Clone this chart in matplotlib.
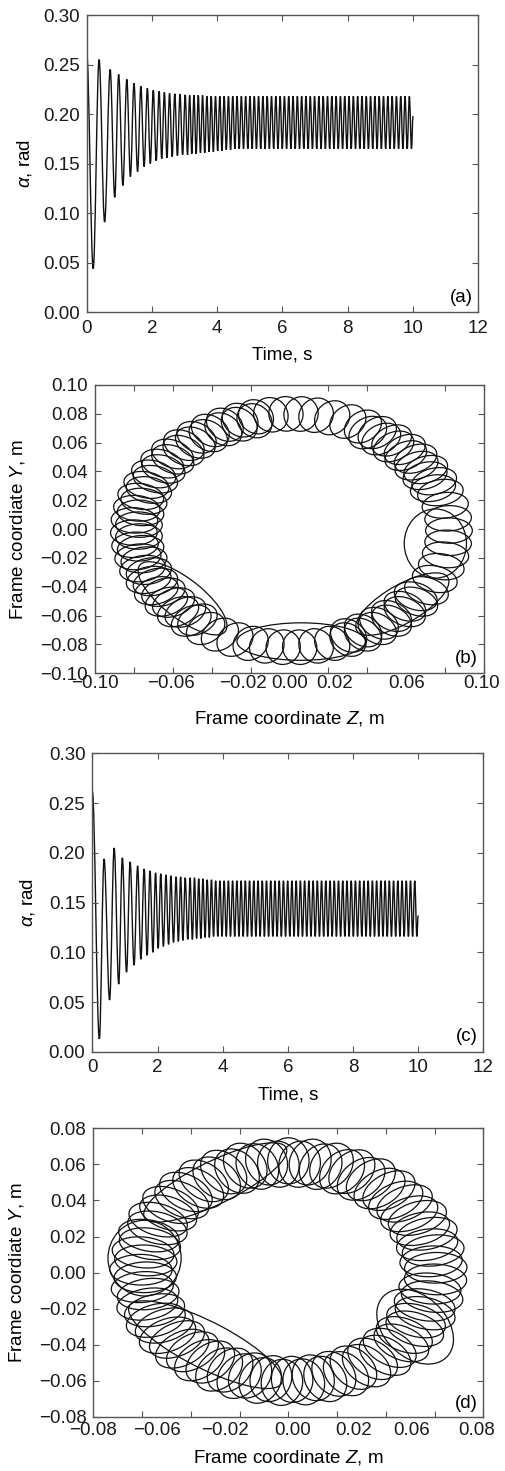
import numpy as np
import matplotlib
matplotlib.use('Agg')
import matplotlib.pyplot as plt
from matplotlib.patches import Ellipse, PathPatch
from matplotlib.path import Path

plt.rcParams['font.family'] = ['Liberation Sans', 'DejaVu Sans']
plt.rcParams['mathtext.fontset'] = 'custom'
plt.rcParams['mathtext.rm'] = 'Liberation Sans'
plt.rcParams['mathtext.it'] = 'Liberation Sans:italic'

FS = 13.5
INK = '#111111'
FRAME = '#555555'

# ---------- (a) alpha(t): turning points ----------
a_peak_t = [0.00, 0.38, 0.72, 0.98, 1.23, 1.45, 1.66, 1.86, 2.04, 2.22, 2.38, 2.54, 2.70, 2.86, 3.02]
a_peak_v = [0.262, 0.255, 0.245, 0.240, 0.235, 0.231, 0.228, 0.226, 0.224, 0.223, 0.222, 0.221, 0.2205, 0.220, 0.2195]
a_trough_t = [0.20, 0.55, 0.86, 1.11, 1.34, 1.56, 1.76, 1.95, 2.13, 2.30, 2.46, 2.62, 2.78, 2.94]
a_trough_v = [0.044, 0.091, 0.116, 0.128, 0.137, 0.142, 0.147, 0.150, 0.153, 0.155, 0.156, 0.157, 0.158, 0.159]
# steady oscillation after ~3 s (half period, lower / upper turning values)
a_steady_t0 = 3.09
a_steady_half = 0.066
a_steady_lo = [0.159, 0.160, 0.160, 0.161, 0.161, 0.162, 0.162, 0.163, 0.163, 0.164, 0.164] + [0.165] * 42
a_steady_hi = [0.219] * 4 + [0.218] * 48
a_end = (10.0, 0.198)

# ---------- (c) alpha(t) ----------
c_peak_t = [0.00, 0.36, 0.67, 0.92, 1.16, 1.39, 1.59, 1.77, 1.94, 2.10, 2.26, 2.41, 2.57, 2.71, 2.85, 3.00]
c_peak_v = [0.262, 0.194, 0.205, 0.195, 0.191, 0.187, 0.184, 0.182, 0.180, 0.179, 0.178, 0.177, 0.176, 0.176, 0.175, 0.175]
c_trough_t = [0.215, 0.53, 0.81, 1.05, 1.28, 1.49, 1.68, 1.86, 2.02, 2.18, 2.34, 2.49, 2.64, 2.78, 2.93]
c_trough_v = [0.013, 0.052, 0.068, 0.080, 0.087, 0.093, 0.097, 0.100, 0.104, 0.106, 0.108, 0.110, 0.111, 0.112, 0.113]
c_steady_t0 = 3.07
c_steady_half = 0.065
c_steady_lo = [0.113, 0.114, 0.114, 0.115, 0.115] + [0.116] * 49
c_steady_hi = [0.175, 0.174, 0.174, 0.173, 0.173] + [0.172] * 48
c_end = (10.0, 0.137)

time_ticks = [0, 2, 4, 6, 8, 10, 12]
alpha_ticks = [0.00, 0.05, 0.10, 0.15, 0.20, 0.25, 0.30]
alpha_labels = ['0.00', '0.05', '0.10', '0.15', '0.20', '0.25', '0.30']

# ---------- (b) frame trajectory: loop positions around the ring ----------
b_ring = (0.001, -0.001, 0.081, 0.081)          # centre z, centre y, radius z, radius y
b_loop_ang = [0, 6, 12.5, 19, 25, 31.5, 38, 44, 50.5, 57, 63, 69, 75, 81, 86.5, 92, 97.5,
              103, 109, 115, 121, 127, 133, 139, 145, 151, 157, 163, 169, 175, 181, 187,
              193, 199, 205, 211, 217.5, 224, 230.5, 237, 243, 249, 255, 261, 267, 273,
              279, 285, 291, 297, 303, 309.5, 316, 322.5, 329, 335.5, 342, 348, 354]
b_ring2 = (0.001, -0.001, 0.0785, 0.0785)
b_loop_ang2 = [22, 29, 35, 41.5, 48, 54, 60, 104, 110, 116.5, 123, 129, 135, 141, 147, 153,
               159, 165, 171, 177, 183, 189, 195, 201, 207, 213, 219.5, 226, 232, 292, 298,
               305, 311, 318, 324.5]
b_loop_semi = (0.012, 0.0088)                    # radial, tangential half-size
b_big_z = [0.075, -0.055, 0.006, 0.058]
b_big_y = [-0.010, -0.048, -0.078, -0.052]
b_big_w = [0.032, 0.064, 0.066, 0.060]
b_big_h = [0.048, 0.024, 0.026, 0.024]
b_big_ang = [0, -49, 0, 41]
b_ticks = [-0.10, -0.08, -0.06, -0.04, -0.02, 0.00, 0.02, 0.04, 0.06, 0.08, 0.10]
b_ylabels = ['\u22120.10', '\u22120.08', '\u22120.06', '\u22120.04', '\u22120.02', '0.00',
             '0.02', '0.04', '0.06', '0.08', '0.10']
b_xlabels = ['\u22120.10', '\u22120.06', '\u22120.02', '0.00', '0.02', '0.06', '0.10']
b_xlabel_at = [-0.10, -0.061, -0.0241, 0.0, 0.0231, 0.06, 0.0985]   # where the labels sit

# ---------- (d) ----------
d_ring = (0.0, 0.0005, 0.0605, 0.0615)
d_loop_ang = [2, 11, 20, 29, 38, 47, 56, 64.5, 73, 81.5, 90, 98.5, 107, 116, 125, 134, 143,
              152, 161, 170, 179, 188, 197, 206, 215, 224, 233, 242, 250.5, 259, 267.5, 276,
              284.5, 293, 302, 311, 320, 329, 338, 347, 356]
d_ring2 = (0.0, 0.0005, 0.0588, 0.0598)
d_loop_ang2 = [5.5, 14.5, 23.5, 32.5, 41.5, 50.5, 59.5, 68, 77, 85.5, 94, 102.5, 111, 120, 129,
               138, 147, 156, 165, 174, 183, 192, 201, 210, 219, 228, 237, 246, 254.5, 263,
               271.5, 280, 288.5, 297, 306, 315, 324, 333, 342, 351]
d_loop_semi = (0.0128, 0.0085)
d_big_z = [-0.059, -0.030, -0.034, 0.052]
d_big_y = [0.008, 0.050, -0.040, -0.030]
d_big_w = [0.030, 0.070, 0.076, 0.028]
d_big_h = [0.042, 0.022, 0.024, 0.044]
d_big_ang = [0, 35, -36, 25]
d_ticks = [-0.08, -0.06, -0.04, -0.02, 0.00, 0.02, 0.04, 0.06, 0.08]
d_ylabels = ['\u22120.08', '\u22120.06', '\u22120.04', '\u22120.02', '0.00', '0.02', '0.04',
             '0.06', '0.08']
d_xlabels = ['\u22120.08', '\u22120.06', '\u22120.02', '0.00', '0.02', '0.06', '0.08']
d_xlabel_at = [-0.08, -0.0538, -0.0262, 0.0016, 0.0266, 0.0506, 0.0771]


def build_series(pk_t, pk_v, tr_t, tr_v, t0, half, lo, hi, end):
    t, v = [], []
    for i in range(len(pk_t)):
        t.append(pk_t[i]); v.append(pk_v[i])
        if i < len(tr_t):
            t.append(tr_t[i]); v.append(tr_v[i])
    for i in range(len(lo)):
        t.append(t0 + 2 * i * half); v.append(lo[i])
        if i < len(hi):
            t.append(t0 + (2 * i + 1) * half); v.append(hi[i])
    t.append(end[0]); v.append(end[1])
    return t, v


def smooth_line(ax, t, v, lw=1.0):
    # cubic segments between turning points, flat at each turning point
    verts = [(t[0], v[0])]
    codes = [Path.MOVETO]
    for i in range(1, len(t)):
        dt = t[i] - t[i - 1]
        verts += [(t[i - 1] + 0.36 * dt, v[i - 1]), (t[i] - 0.36 * dt, v[i]), (t[i], v[i])]
        codes += [Path.CURVE4] * 3
    ax.add_patch(PathPatch(Path(verts, codes), fill=False, ec=INK, lw=lw))


def style(ax, xpad):
    ax.tick_params(which='both', direction='in', width=0.8, color=FRAME, top=True, right=True,
                   labelsize=FS, labelcolor='#1a1a1a')
    ax.tick_params(which='major', length=4)
    ax.tick_params(which='minor', length=4)
    ax.tick_params(axis='x', pad=xpad)
    ax.tick_params(axis='y', pad=5)
    for s in ax.spines.values():
        s.set_color(FRAME)
        s.set_linewidth(1.0)


def loop_xaxis(ax, ticks, label_at, labels):
    # tick marks every 0.02 (minor); labels spread as in the print (major, no mark)
    ax.set_xticks(ticks, minor=True)
    ax.set_xticks(label_at, labels)


def draw_loops(ax, ring, angs, semi):
    cz, cy, rz, ry = ring
    for ang in angs:
        th = np.deg2rad(ang)
        ax.add_patch(Ellipse((cz + rz * np.cos(th), cy + ry * np.sin(th)),
                             2 * semi[0], 2 * semi[1], angle=ang,
                             fill=False, ec=INK, lw=0.9))


def draw_big(ax, zs, ys, ws, hs, angs):
    for z, y, w, h, a in zip(zs, ys, ws, hs, angs):
        ax.add_patch(Ellipse((z, y), w, h, angle=a, fill=False, ec=INK, lw=0.9))


fig = plt.figure(figsize=(5.06, 14.71), dpi=100, facecolor='white')

# ---- (a) ----
ax = fig.add_axes([0.1713, 0.7877, 0.7739, 0.2021])
t, v = build_series(a_peak_t, a_peak_v, a_trough_t, a_trough_v,
                    a_steady_t0, a_steady_half, a_steady_lo, a_steady_hi, a_end)
smooth_line(ax, t, v)
ax.set_xlim(0, 12); ax.set_ylim(0, 0.30)
ax.set_xticks(time_ticks)
ax.set_yticks(alpha_ticks, alpha_labels)
style(ax, 5.5)
ax.set_xlabel('Time, s', fontsize=FS, va='center')
ax.set_ylabel(r'$\alpha$, rad', fontsize=FS, va='center')
ax.xaxis.set_label_coords(0.5, -0.145)
ax.yaxis.set_label_coords(-0.158, 0.5)
ax.text(0.985, 0.022, '(a)', transform=ax.transAxes, ha='right', va='bottom', fontsize=FS)

# ---- (b) ----
ax = fig.add_axes([0.1877, 0.5423, 0.7688, 0.1960])
draw_loops(ax, b_ring, b_loop_ang, b_loop_semi)
draw_loops(ax, b_ring2, b_loop_ang2, b_loop_semi)
draw_big(ax, b_big_z, b_big_y, b_big_w, b_big_h, b_big_ang)
ax.set_xlim(-0.10, 0.10); ax.set_ylim(-0.10, 0.10)
loop_xaxis(ax, b_ticks, b_xlabel_at, b_xlabels)
ax.set_yticks(b_ticks, b_ylabels)
style(ax, 1.5)
ax.tick_params(axis='x', which='major', length=0)
ax.set_xlabel('Frame coordinate $Z$, m', fontsize=FS, va='center')
ax.set_ylabel('Frame coordiate $Y$, m', fontsize=FS, va='center')
ax.xaxis.set_label_coords(0.5, -0.156)
ax.yaxis.set_label_coords(-0.2, 0.5)
ax.text(0.985, 0.022, '(b)', transform=ax.transAxes, ha='right', va='bottom', fontsize=FS)

# ---- (c) ----
ax = fig.add_axes([0.1825, 0.2850, 0.7727, 0.2028])
t, v = build_series(c_peak_t, c_peak_v, c_trough_t, c_trough_v,
                    c_steady_t0, c_steady_half, c_steady_lo, c_steady_hi, c_end)
smooth_line(ax, t, v)
ax.set_xlim(0, 12); ax.set_ylim(0, 0.30)
ax.set_xticks(time_ticks)
ax.set_yticks(alpha_ticks, alpha_labels)
style(ax, 5.5)
ax.set_xlabel('Time, s', fontsize=FS, va='center')
ax.set_ylabel(r'$\alpha$, rad', fontsize=FS, va='center')
ax.xaxis.set_label_coords(0.5, -0.145)
ax.yaxis.set_label_coords(-0.165, 0.5)
ax.text(0.985, 0.022, '(c)', transform=ax.transAxes, ha='right', va='bottom', fontsize=FS)

# ---- (d) ----
ax = fig.add_axes([0.1845, 0.0369, 0.7708, 0.1960])
draw_loops(ax, d_ring, d_loop_ang, d_loop_semi)
draw_loops(ax, d_ring2, d_loop_ang2, d_loop_semi)
draw_big(ax, d_big_z, d_big_y, d_big_w, d_big_h, d_big_ang)
ax.set_xlim(-0.08, 0.08); ax.set_ylim(-0.08, 0.08)
loop_xaxis(ax, d_ticks, d_xlabel_at, d_xlabels)
ax.set_yticks(d_ticks, d_ylabels)
style(ax, 4)
ax.tick_params(axis='x', which='major', length=0)
ax.set_xlabel('Frame coordinate $Z$, m', fontsize=FS, va='center')
ax.set_ylabel('Frame coordiate $Y$, m', fontsize=FS, va='center')
ax.xaxis.set_label_coords(0.5, -0.143)
ax.yaxis.set_label_coords(-0.196, 0.5)
ax.text(0.986, 0.015, '(d)', transform=ax.transAxes, ha='right', va='bottom', fontsize=FS)

fig.savefig('out.png', dpi=100, facecolor='white')
